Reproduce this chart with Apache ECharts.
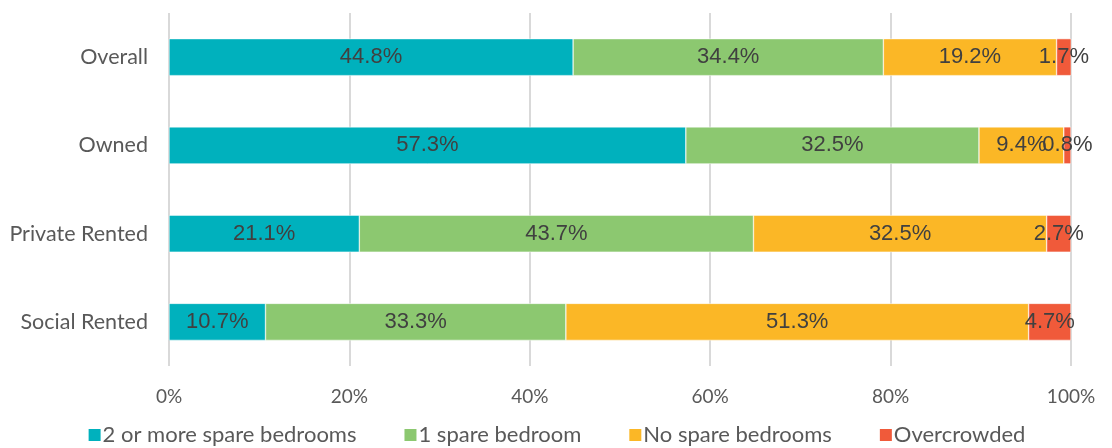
<!DOCTYPE html>
<html>
<head>
<meta charset="utf-8">
<script src="https://cdn.jsdelivr.net/npm/echarts@6/dist/echarts.min.js"></script>
<style>
  html, body { margin: 0; padding: 0; background: #fff; }
  #chart { width: 1112px; height: 448px; }
</style>
</head>
<body>
<div id="chart"></div>
<script>
// categories, top to bottom
const categories = ['Overall', 'Owned', 'Private Rented', 'Social Rented']
const seriesNames = ['2 or more spare bedrooms', '1 spare bedroom', 'No spare bedrooms', 'Overcrowded']
const twoPlusSpare = [44.8, 57.3, 21.1, 10.7]
const oneSpare = [34.4, 32.5, 43.7, 33.3]
const noSpare = [19.2, 9.4, 32.5, 51.3]
const overcrowded = [1.7, 0.8, 2.7, 4.7]
const xTicks = [0, 20, 40, 60, 80, 100]

const colors = ['#00B1BD', '#8CC870', '#FBB726', '#F05A3A']
const values = [twoPlusSpare, oneSpare, noSpare, overcrowded]

const chart = echarts.init(document.getElementById('chart'))

const series = seriesNames.map(function (name, i) {
  return {
    name: name,
    type: 'bar',
    stack: 'total',
    barWidth: 37,
    data: values[i],
    itemStyle: { color: colors[i], borderColor: '#fff', borderWidth: 0.5 },
    label: {
      show: true,
      position: 'inside',
      formatter: function (p) { return p.value.toFixed(1) + '%' },
      color: '#404040',
      fontFamily: 'Liberation Sans',
      fontSize: 22
    }
  }
})

chart.setOption({
  animation: false,
  color: colors,
  grid: { left: 169, right: 41, top: 13, bottom: 82 },
  xAxis: {
    type: 'value',
    min: xTicks[0],
    max: xTicks[xTicks.length - 1],
    interval: 20,
    axisLine: { show: false },
    axisTick: { show: false },
    splitLine: { lineStyle: { color: '#d9d9d9', width: 2 } },
    axisLabel: {
      formatter: '{value}%',
      color: '#595959',
      fontFamily: 'Lato',
      fontSize: 19,
      margin: 21
    }
  },
  yAxis: {
    type: 'category',
    inverse: true,
    data: categories,
    axisLine: { show: false },
    axisTick: { show: false },
    axisLabel: {
      color: '#595959',
      fontFamily: 'Lato',
      fontSize: 21.5,
      margin: 21
    }
  },
  legend: {
    bottom: -3,
    left: 'center',
    icon: 'rect',
    itemWidth: 14,
    itemHeight: 14,
    itemGap: 46,
    textStyle: { color: '#595959', fontFamily: 'Lato', fontSize: 22, padding: [0, 0, 0, -4] },
    data: seriesNames
  },
  series: series
})
</script>
</body>
</html>
